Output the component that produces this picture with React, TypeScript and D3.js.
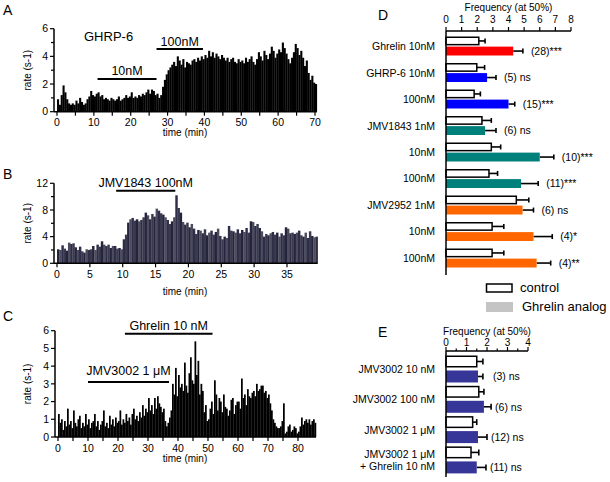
import React from 'react';
import * as d3 from 'd3';

const FONT = '"Liberation Sans", Arial, Helvetica, sans-serif';

// ---------- Panel A : GHRP-6 (0.5 min bins) ----------
const aBin = 0.5;
const aRates = [
  0.9, 0.5, 1.2, 1.9, 1.4, 0.9, 0.6, 0.5, 0.6, 0.5,
  0.8, 0.6, 1.0, 0.7, 0.5, 0.6, 0.9, 1.1, 1.5, 1.2,
  1.1, 1.3, 1.4, 1.1, 1.2, 0.9, 1.0, 0.9, 0.8, 1.0,
  0.9, 0.8, 0.9, 1.1, 0.8, 0.9, 1.0, 1.2, 1.0, 1.1,
  1.4, 1.0, 1.1, 1.0, 1.2, 1.1, 1.3, 1.2, 1.4, 1.6,
  1.3, 1.6, 1.5, 1.2, 1.3, 1.0, 1.2, 1.8, 2.3, 2.7,
  3.0, 3.2, 3.4, 3.6, 3.3, 4.0, 3.7, 3.4, 3.8, 3.2,
  3.6, 3.5, 3.4, 3.7, 3.8, 3.6, 3.9, 3.7, 4.0, 3.8,
  4.1, 3.9, 4.4, 4.0, 4.3, 3.9, 4.2, 4.0, 3.8, 4.1,
  3.9, 3.7, 3.9, 3.6, 3.8, 3.9, 3.6, 3.5, 3.8, 3.6,
  3.7, 3.5, 3.9, 3.6, 3.8, 4.0, 3.6, 3.4, 3.8, 4.3,
  4.0, 3.7, 4.4, 4.1, 3.8, 4.2, 4.7, 4.4, 3.9, 4.2,
  4.5, 4.3, 5.0, 4.6, 4.2, 3.8, 3.5, 3.9, 4.3, 4.9,
  4.6, 4.1, 4.4, 3.9, 3.3, 3.7, 2.8, 2.3, 2.6, 2.1,
  2.0,
];
const aDrugLabels = ['10nM', '100nM'];
const aDrugFrom = [11, 27];
const aDrugTo = [27, 39.6];

// ---------- Panel B : JMV1843 (20 s bins) ----------
const bBin = 1 / 3;
const bRates = [
  2.1, 2.0, 2.7, 2.2, 1.9, 3.1, 2.9, 3.0, 2.4, 2.0,
  2.5, 1.8, 1.6, 2.1, 2.0, 2.1, 2.6, 2.0, 2.8, 2.5,
  3.3, 2.8, 2.6, 2.8, 2.3, 2.6, 2.6, 2.2, 2.3, 2.1,
  3.6, 4.3, 6.1, 6.6, 6.8, 6.4, 6.6, 6.3, 6.5, 6.9,
  7.6, 7.2, 6.6, 7.4, 7.0, 8.2, 7.9, 7.5, 7.3, 6.9,
  6.5, 5.9, 6.3, 6.9, 10.2, 8.3, 7.6, 6.2, 5.8, 6.1,
  5.4, 5.9, 5.2, 4.4, 5.0, 4.9, 4.5, 5.1, 4.2, 4.6,
  4.9, 4.3, 4.7, 5.2, 4.1, 3.6, 4.0, 3.8, 5.6, 4.9,
  4.8, 4.6, 5.1, 4.5, 5.0, 4.7, 5.3, 4.6, 6.3, 6.2,
  5.6, 5.9, 5.3, 4.8, 4.0, 4.4, 4.2, 4.5, 4.7, 4.3,
  4.6, 4.0, 4.5, 4.2, 5.4, 5.2, 4.5, 4.6, 4.4, 4.6,
  4.9, 4.2, 4.0, 4.6, 3.8, 4.8, 4.1, 3.9, 4.0,
];
const bDrugLabels = ['JMV1843 100nM'];
const bDrugFrom = [9];
const bDrugTo = [18];

// ---------- Panel C : JMV3002 + Ghrelin (0.5 min bins) ----------
const cBin = 0.5;
const cRates = [
  1.3, 0.8, 1.0, 0.4, 0.9, 0.6, 1.6, 0.7, 0.9, 0.5,
  1.5, 0.8, 0.6, 1.0, 1.2, 0.5, 0.8, 0.6, 1.3, 0.7,
  1.0, 0.5, 0.8, 0.9, 1.3, 0.6, 0.9, 0.4, 0.7, 0.9,
  1.5, 0.6, 0.8, 0.5, 1.2, 0.7, 1.0, 0.6, 1.1, 0.8,
  0.9, 1.5, 0.7, 1.0, 0.8, 1.3, 0.9, 1.1, 0.7, 1.3,
  1.6, 1.0, 1.2, 0.9, 1.4, 1.1, 1.8, 1.2, 1.6, 1.4,
  2.2, 1.5, 1.8, 1.3, 2.2, 1.6, 2.3, 1.9, 1.7, 1.4,
  1.6, 0.9, 0.6, 0.8, 1.1, 1.5, 3.0, 2.4, 3.9, 2.3,
  3.5, 2.8, 3.0, 2.6, 4.2, 2.9, 2.5, 3.6, 4.5, 3.2,
  3.0, 5.4, 3.5, 4.3, 2.4, 3.0, 2.6, 1.4, 1.8, 0.9,
  1.0, 1.6, 2.0, 1.3, 3.2, 2.4, 1.5, 2.2, 2.0, 1.4,
  2.4, 1.7, 1.6, 1.2, 1.5, 2.1, 2.2, 1.3, 1.8, 2.0,
  2.0, 1.6, 3.3, 2.2, 2.4, 1.8, 2.7, 2.3, 2.2, 2.5,
  2.6, 2.3, 3.0, 2.6, 2.7, 2.9, 2.9, 2.5, 2.6, 2.2,
  2.4, 1.9, 1.5, 1.0, 0.8, 0.6, 0.5, 0.5, 0.6, 0.9,
  1.9, 0.2, 0.3, 0.6, 0.7, 0.3, 0.4, 0.6, 0.5, 0.2,
  0.3, 0.6, 1.1, 0.7, 0.9, 1.0, 0.8, 1.0, 0.7, 0.9,
  1.0, 0.8,
];
const cDrugLabels = ['Ghrelin 10 nM', 'JMV3002 1 μM'];
const cDrugFrom = [22.3, 10];
const cDrugTo = [51.5, 37];

// ---------- Panel D ----------
const dLabels = ['Ghrelin 10nM', 'GHRP-6 10nM', '100nM', 'JMV1843 1nM', '10nM', '100nM', 'JMV2952 1nM', '10nM', '100nM'];
const dDrug = ['Ghrelin', 'GHRP-6', 'GHRP-6', 'JMV1843', 'JMV1843', 'JMV1843', 'JMV2952', 'JMV2952', 'JMV2952'];
const dControl = [2.1, 1.97, 1.8, 2.3, 2.9, 2.75, 4.5, 2.95, 2.95];
const dControlErr = [0.4, 0.5, 0.4, 0.6, 0.6, 0.55, 0.8, 0.75, 0.75];
const dAnalog = [4.3, 2.63, 4.0, 2.5, 6.0, 4.8, 4.9, 5.6, 5.8];
const dAnalogErr = [0.62, 0.57, 0.4, 0.7, 0.9, 1.1, 0.7, 1.2, 0.9];
const dNotes = ['(28)***', '(5) ns', '(15)***', '(6) ns', '(10)***', '(11)***', '(6) ns', '(4)*', '(4)**'];
const dTicks = [0, 1, 2, 3, 4, 5, 6, 7, 8];

// ---------- Panel E ----------
const eLabels = [['JMV3002 10 nM'], ['JMV3002 100 nM'], ['JMV3002 1 μM'], ['JMV3002 1 μM', '+ Ghrelin 10 nM']];
const eControl = [1.5, 1.6, 1.3, 1.22];
const eControlErr = [0.3, 0.25, 0.2, 0.38];
const eAnalog = [1.56, 1.85, 1.56, 1.5];
const eAnalogErr = [0.24, 0.35, 0.44, 0.45];
const eNotes = ['(3) ns', '(6) ns', '(12) ns', '(11) ns'];
const eTicks = [0, 1, 2, 3, 4];

const legendLabels = ['control', 'Ghrelin analog'];

const DRUG_COLORS: Record<string, string> = {
  Ghrelin: '#ff0000',
  'GHRP-6': '#0000ff',
  JMV1843: '#00807b',
  JMV2952: '#ff6600',
  JMV3002: '#363699',
};

type TraceProps = {
  values: number[];
  bin: number;
  x: d3.ScaleLinear<number, number>;
  y: d3.ScaleLinear<number, number>;
  xTickStep: number;
  xLabelStep: number;
  xMax: number;
  yTickStep: number;
  yLabelStep: number;
  yMax: number;
  colors: string[];
  titleY: number;
  tickLabelGap: number;
};

function Trace(p: TraceProps) {
  const { values, bin, x, y } = p;
  const axisX = x(0) - 3;
  const baseY = y(0);
  const endX = x(values.length * bin);
  const xTicks = d3.range(0, p.xMax + 1e-9, p.xTickStep);
  const yTicks = d3.range(0, p.yMax + 1e-9, p.yTickStep);
  const isMult = (v: number, s: number) => Math.abs(v / s - Math.round(v / s)) < 1e-6;
  return (
    <g>
      {values.map((v, i) => (
        <rect
          key={i}
          x={x(i * bin)}
          width={x((i + 1) * bin) - x(i * bin) + 0.25}
          y={y(v)}
          height={baseY - y(v)}
          fill={p.colors[i % p.colors.length]}
        />
      ))}
      <line x1={axisX} x2={axisX} y1={baseY} y2={y(p.yMax)} stroke="#000" strokeWidth={1.5} />
      <line x1={axisX} x2={endX} y1={baseY} y2={baseY} stroke="#000" strokeWidth={1.5} />
      {yTicks.map((t) => (
        <g key={'y' + t}>
          <line x1={axisX - (isMult(t, p.yLabelStep) ? 4 : 3)} x2={axisX} y1={y(t)} y2={y(t)} stroke="#000" strokeWidth={1.2} />
          {isMult(t, p.yLabelStep) && (
            <text x={axisX - 6} y={y(t) + 3.7} textAnchor="end" fontSize={10.5}>
              {t}
            </text>
          )}
        </g>
      ))}
      {xTicks.map((t) => (
        <g key={'x' + t}>
          <line x1={x(t)} x2={x(t)} y1={baseY} y2={baseY + 4} stroke="#000" strokeWidth={1.2} />
          {isMult(t, p.xLabelStep) && (
            <text x={x(t)} y={baseY + p.tickLabelGap} textAnchor="middle" fontSize={10.5}>
              {t}
            </text>
          )}
        </g>
      ))}
      <text
        transform={`translate(30.5,${(y(0) + y(p.yMax)) / 2}) rotate(-90)`}
        textAnchor="middle"
        fontSize={10}
      >
        rate (s-1)
      </text>
      <text x={185} y={p.titleY} textAnchor="middle" fontSize={10}>
        time (min)
      </text>
    </g>
  );
}

function DrugBar({ x, from, to, yLine, label, textGap }: { x: d3.ScaleLinear<number, number>; from: number; to: number; yLine: number; label: string; textGap: number }) {
  return (
    <g>
      <line x1={x(from)} x2={x(to)} y1={yLine} y2={yLine} stroke="#000" strokeWidth={2} />
      <text x={(x(from) + x(to)) / 2} y={yLine - textGap} textAnchor="middle" fontSize={12.5}>
        {label}
      </text>
    </g>
  );
}

type BarPanelProps = {
  x: d3.ScaleLinear<number, number>;
  groups: d3.ScaleBand<string>;
  inner: d3.ScaleBand<string>;
  control: number[];
  controlErr: number[];
  analog: number[];
  analogErr: number[];
  colors: string[];
  notes: string[];
  noteX: (errEnd: number, i: number) => number;
  capH: number;
};

function BarPairs(p: BarPanelProps) {
  const { x, groups, inner } = p;
  return (
    <g>
      {p.control.map((_, i) => {
        const g0 = groups(String(i)) as number;
        const yc = g0 + (inner('control') as number);
        const ya = g0 + (inner('analog') as number);
        const bh = inner.bandwidth();
        const cEnd = x(p.control[i] + p.controlErr[i]);
        const aEnd = x(p.analog[i] + p.analogErr[i]);
        return (
          <g key={i}>
            <line x1={x(p.control[i])} x2={cEnd} y1={yc + bh / 2} y2={yc + bh / 2} stroke="#000" strokeWidth={1.6} />
            <line x1={cEnd} x2={cEnd} y1={yc + bh / 2 - p.capH / 2} y2={yc + bh / 2 + p.capH / 2} stroke="#000" strokeWidth={1.6} />
            <rect x={x(0)} y={yc + 0.75} width={x(p.control[i]) - x(0)} height={bh - 1.5} fill="#fff" stroke="#000" strokeWidth={1.5} />
            <line x1={x(p.analog[i])} x2={aEnd} y1={ya + bh / 2} y2={ya + bh / 2} stroke="#000" strokeWidth={1.6} />
            <line x1={aEnd} x2={aEnd} y1={ya + bh / 2 - p.capH / 2} y2={ya + bh / 2 + p.capH / 2} stroke="#000" strokeWidth={1.6} />
            <rect x={x(0)} y={ya} width={x(p.analog[i]) - x(0)} height={bh} fill={p.colors[i]} />
            <text x={p.noteX(aEnd, i)} y={ya + bh / 2 + 3.8} fontSize={10.5}>
              {p.notes[i]}
            </text>
          </g>
        );
      })}
    </g>
  );
}

export default function App() {
  // scales for traces
  const xA = d3.scaleLinear().domain([0, 70]).range([57, 315]);
  const yA = d3.scaleLinear().domain([0, 6]).range([111.7, 28.7]);
  const xB = d3.scaleLinear().domain([0, 35]).range([57, 287]);
  const yB = d3.scaleLinear().domain([0, 12]).range([263.3, 183.3]);
  const xC = d3.scaleLinear().domain([0, 80]).range([58, 298]);
  const yC = d3.scaleLinear().domain([0, 6]).range([437, 330.7]);

  // Panel D scales
  const xD = d3.scaleLinear().domain([0, 8]).range([446, 571]);
  const gD = d3
    .scaleBand<string>()
    .domain(dLabels.map((_, i) => String(i)))
    .range([36.5, 267.5])
    .paddingInner(0.283)
    .paddingOuter(0);
  const iD = d3.scaleBand<string>().domain(['control', 'analog']).range([0, gD.bandwidth()]).paddingInner(0.12);

  // Panel E scales
  const xE = d3.scaleLinear().domain([0, 4]).range([446, 528]);
  const gE = d3
    .scaleBand<string>()
    .domain(eLabels.map((_, i) => String(i)))
    .range([355.5, 473.4])
    .paddingInner(0.11)
    .paddingOuter(0);
  const iE = d3.scaleBand<string>().domain(['control', 'analog']).range([0, gE.bandwidth()]).paddingInner(0.2);

  const dColors = dDrug.map((d) => DRUG_COLORS[d]);
  const eColors = eLabels.map(() => DRUG_COLORS.JMV3002);
  const eMinorTicks = d3.range(0, 4.0001, 0.5);

  return (
    <svg
      width={610}
      height={482}
      style={{ position: 'absolute', left: 0, top: 0, background: '#fff' }}
      fontFamily={FONT}
    >
      <rect width={610} height={482} fill="#fff" />
      {/* Panel letters */}
      <text x={3} y={15} fontSize={14}>A</text>
      <text x={3} y={179} fontSize={14}>B</text>
      <text x={3} y={321} fontSize={14}>C</text>
      <text x={378} y={20} fontSize={14}>D</text>
      <text x={378} y={337} fontSize={14}>E</text>

      {/* Panel A */}
      <Trace values={aRates} bin={aBin} x={xA} y={yA} xTickStep={5} xLabelStep={10} xMax={70}
        yTickStep={1} yLabelStep={2} yMax={6} colors={['#000']} titleY={136} tickLabelGap={13.8} />
      <text x={84} y={41} fontSize={13}>GHRP-6</text>
      <DrugBar x={xA} from={aDrugFrom[0]} to={aDrugTo[0]} yLine={yA(2.36)} label={aDrugLabels[0]} textGap={4} />
      <DrugBar x={xA} from={aDrugFrom[1]} to={aDrugTo[1]} yLine={yA(4.53)} label={aDrugLabels[1]} textGap={3.5} />

      {/* Panel B */}
      <Trace values={bRates} bin={bBin} x={xB} y={yB} xTickStep={5} xLabelStep={5} xMax={35}
        yTickStep={2} yLabelStep={4} yMax={12} colors={['#24243c', '#4c4c5e', '#2e2e48', '#3a3a4e']} titleY={294.5} tickLabelGap={14.6} />
      <DrugBar x={xB} from={bDrugFrom[0]} to={bDrugTo[0]} yLine={yB(10.9)} label={bDrugLabels[0]} textGap={4} />

      {/* Panel C */}
      <Trace values={cRates} bin={cBin} x={xC} y={yC} xTickStep={5} xLabelStep={10} xMax={80}
        yTickStep={1} yLabelStep={1} yMax={6} colors={['#000']} titleY={462} tickLabelGap={14.6} />
      <DrugBar x={xC} from={cDrugFrom[0]} to={cDrugTo[0]} yLine={yC(5.83)} label={cDrugLabels[0]} textGap={3.8} />
      <DrugBar x={xC} from={cDrugFrom[1]} to={cDrugTo[1]} yLine={yC(3.1)} label={cDrugLabels[1]} textGap={7.5} />

      {/* Panel D */}
      <text x={(xD(0) + xD(8)) / 2} y={10.5} textAnchor="middle" fontSize={10}>Frequency (at 50%)</text>
      {dTicks.map((t) => (
        <g key={'dt' + t}>
          <line x1={xD(t)} x2={xD(t)} y1={31} y2={27} stroke="#000" strokeWidth={1.2} />
          <text x={xD(t)} y={23} textAnchor="middle" fontSize={10}>{t}</text>
        </g>
      ))}
      <BarPairs x={xD} groups={gD} inner={iD} control={dControl} controlErr={dControlErr} analog={dAnalog}
        analogErr={dAnalogErr} colors={dColors} notes={dNotes} noteX={(e) => e + 8} capH={5} />
      <line x1={xD(0)} x2={xD(8)} y1={31} y2={31} stroke="#000" strokeWidth={1.5} />
      <line x1={xD(0)} x2={xD(0)} y1={31} y2={275} stroke="#000" strokeWidth={1.5} />
      {dLabels.map((l, i) => (
        <text key={'dl' + i} x={435} y={(gD(String(i)) as number) + gD.bandwidth() / 2 + 4} textAnchor="end" fontSize={10.5}>
          {l}
        </text>
      ))}

      {/* Legend */}
      <rect x={486.5} y={284} width={25.5} height={8} fill="#fff" stroke="#000" strokeWidth={1.5} />
      <text x={520} y={291.5} fontSize={13}>{legendLabels[0]}</text>
      <rect x={486} y={302} width={27} height={10} fill="#c4c4c4" />
      <text x={522} y={311} fontSize={13}>{legendLabels[1]}</text>

      {/* Panel E */}
      <text x={487} y={335} textAnchor="middle" fontSize={10}>Frequency (at 50%)</text>
      {eMinorTicks.map((t) => (
        <line key={'em' + t} x1={xE(t)} x2={xE(t)} y1={351} y2={Number.isInteger(t) ? 347 : 348.5} stroke="#000" strokeWidth={1.2} />
      ))}
      {eTicks.map((t) => (
        <text key={'et' + t} x={xE(t)} y={346} textAnchor="middle" fontSize={10}>{t}</text>
      ))}
      <BarPairs x={xE} groups={gE} inner={iE} control={eControl} controlErr={eControlErr} analog={eAnalog}
        analogErr={eAnalogErr} colors={eColors} notes={eNotes} noteX={(e, i) => (i === 0 ? e + 10 : Math.max(e + 4, 488))} capH={6} />
      <line x1={xE(0)} x2={xE(4)} y1={351} y2={351} stroke="#000" strokeWidth={1.5} />
      <line x1={xE(0)} x2={xE(0)} y1={351} y2={477} stroke="#000" strokeWidth={1.5} />
      {eLabels.map((lines, i) => {
        const cy = (gE(String(i)) as number) + gE.bandwidth() / 2;
        const top = cy - ((lines.length - 1) * 11.5) / 2;
        return (
          <text key={'el' + i} textAnchor="end" fontSize={10.5}>
            {lines.map((l, j) => (
              <tspan key={j} x={435} y={top + j * 11.5 + 4}>
                {l}
              </tspan>
            ))}
          </text>
        );
      })}
    </svg>
  );
}
